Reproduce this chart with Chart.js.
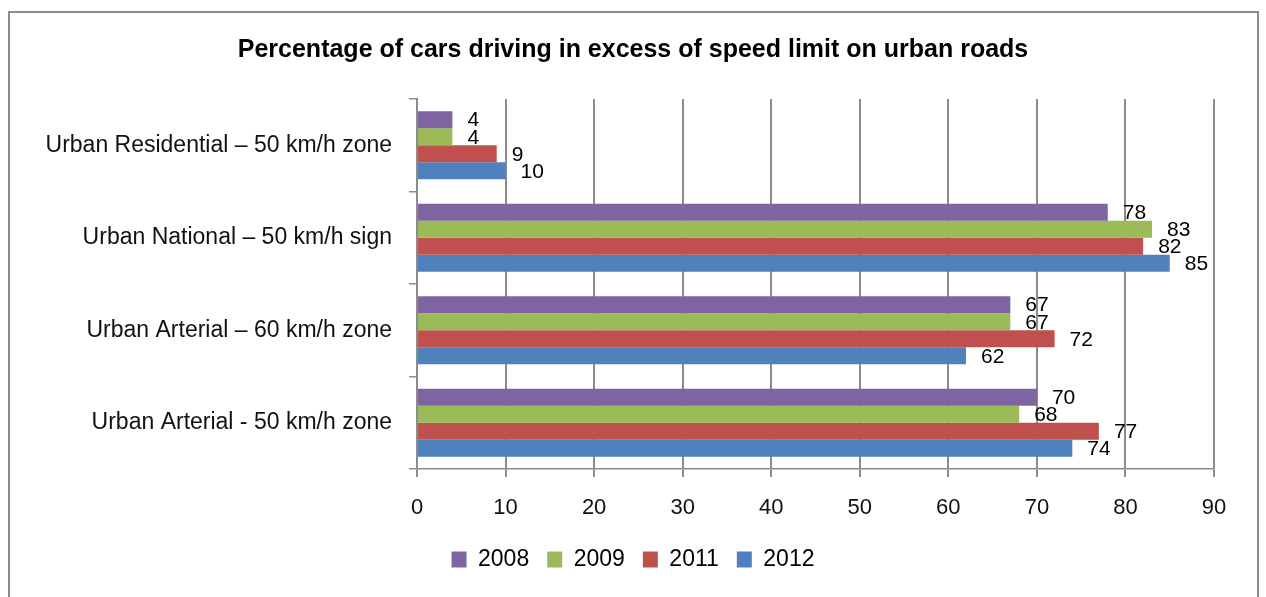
<!DOCTYPE html>
<html lang="en">
<head>
<meta charset="utf-8">
<title>Percentage of cars driving in excess of speed limit on urban roads</title>
<script src="https://cdn.jsdelivr.net/npm/chart.js@4.4.1/dist/chart.umd.min.js"></script>
<style>
    html, body { margin: 0; padding: 0; background: #ffffff; }
    #speedChart { display: block; }
</style>
</head>
<body>
<canvas id="speedChart" width="1266" height="597"></canvas>
<script>
// Chart data
const roadTypes = [
    'Urban Residential \u2013 50 km/h zone',
    'Urban National \u2013 50 km/h sign',
    'Urban Arterial \u2013 60 km/h zone',
    'Urban Arterial - 50 km/h zone'
];
const years = ['2008', '2009', '2011', '2012'];
const values2008 = [4, 78, 67, 70];
const values2009 = [4, 83, 67, 68];
const values2011 = [9, 82, 72, 77];
const values2012 = [10, 85, 62, 74];
const xTicks = [0, 10, 20, 30, 40, 50, 60, 70, 80, 90];

const seriesColors = ['#8064A2', '#9BBB59', '#C0504D', '#4F81BD'];
const gridColor = '#8c8c8c';
const fontFamily = '"Liberation Sans", Arial, sans-serif';

document.addEventListener('DOMContentLoaded', function() {
    createSpeedChart();
});

/**
 * Draws the grey frame around the whole chart
 */
const framePlugin = {
    id: 'frame',
    beforeDraw(chart) {
        const ctx = chart.ctx;
        ctx.save();
        ctx.strokeStyle = gridColor;
        ctx.lineWidth = 2;
        ctx.strokeRect(9, 12, 1249, 600);
        ctx.restore();
    }
};

/**
 * Writes the value to the right of every bar
 */
const valueLabelPlugin = {
    id: 'valueLabels',
    afterDatasetsDraw(chart) {
        const ctx = chart.ctx;
        ctx.save();
        ctx.font = '21px ' + fontFamily;
        ctx.fillStyle = '#000000';
        ctx.textAlign = 'left';
        ctx.textBaseline = 'middle';
        chart.data.datasets.forEach((dataset, i) => {
            const meta = chart.getDatasetMeta(i);
            meta.data.forEach((bar, j) => {
                ctx.fillText(String(dataset.data[j]), bar.x + 15, bar.y + 1);
            });
        });
        ctx.restore();
    }
};

/**
 * Create the horizontal bar chart
 */
function createSpeedChart() {
    const allSeries = [values2008, values2009, values2011, values2012];
    const datasets = years.map((year, i) => ({
        label: year,
        data: allSeries[i],
        backgroundColor: seriesColors[i],
        borderWidth: 0,
        barPercentage: 1,
        categoryPercentage: 0.737
    }));

    const ctx = document.getElementById('speedChart').getContext('2d');
    new Chart(ctx, {
        type: 'bar',
        data: {
            labels: roadTypes,
            datasets: datasets
        },
        options: {
            indexAxis: 'y',
            responsive: false,
            animation: false,
            devicePixelRatio: 1,
            layout: {
                padding: { left: 0, right: 0, top: 0, bottom: 16 }
            },
            plugins: {
                title: {
                    display: true,
                    text: 'Percentage of cars driving in excess of speed limit on urban roads',
                    color: '#000000',
                    font: { family: fontFamily, size: 25, weight: 'bold' },
                    padding: { top: 35, bottom: 34 }
                },
                legend: {
                    display: true,
                    position: 'bottom',
                    labels: {
                        color: '#000000',
                        font: { family: fontFamily, size: 23 },
                        boxWidth: 15,
                        boxHeight: 16,
                        padding: 18
                    }
                },
                tooltip: { enabled: false }
            },
            scales: {
                y: {
                    type: 'category',
                    position: 'left',
                    afterFit(scale) { scale.width = 417; },
                    grid: {
                        offset: true,
                        drawOnChartArea: false,
                        drawTicks: true,
                        tickLength: 8,
                        color: gridColor,
                        lineWidth: 1.5
                    },
                    border: { display: true, color: gridColor, width: 2 },
                    ticks: {
                        color: '#111111',
                        font: { family: fontFamily, size: 23 },
                        padding: 17
                    }
                },
                x: {
                    type: 'linear',
                    position: 'bottom',
                    min: xTicks[0],
                    max: xTicks[xTicks.length - 1],
                    afterFit(scale) { scale.height = 61; },
                    afterBuildTicks(scale) {
                        scale.ticks = xTicks.map(v => ({ value: v }));
                    },
                    grid: {
                        color: gridColor,
                        lineWidth: 2,
                        tickLength: 8
                    },
                    border: { display: true, color: gridColor, width: 1.5 },
                    ticks: {
                        color: '#111111',
                        font: { family: fontFamily, size: 22 },
                        padding: 18
                    }
                },
                // empty right-hand axis, only keeps space free beside the plot
                yRight: {
                    type: 'linear',
                    position: 'right',
                    afterFit(scale) { scale.width = 52; },
                    grid: { display: false },
                    border: { display: false },
                    ticks: { display: false }
                }
            }
        },
        plugins: [framePlugin, valueLabelPlugin]
    });
}
</script>
</body>
</html>
